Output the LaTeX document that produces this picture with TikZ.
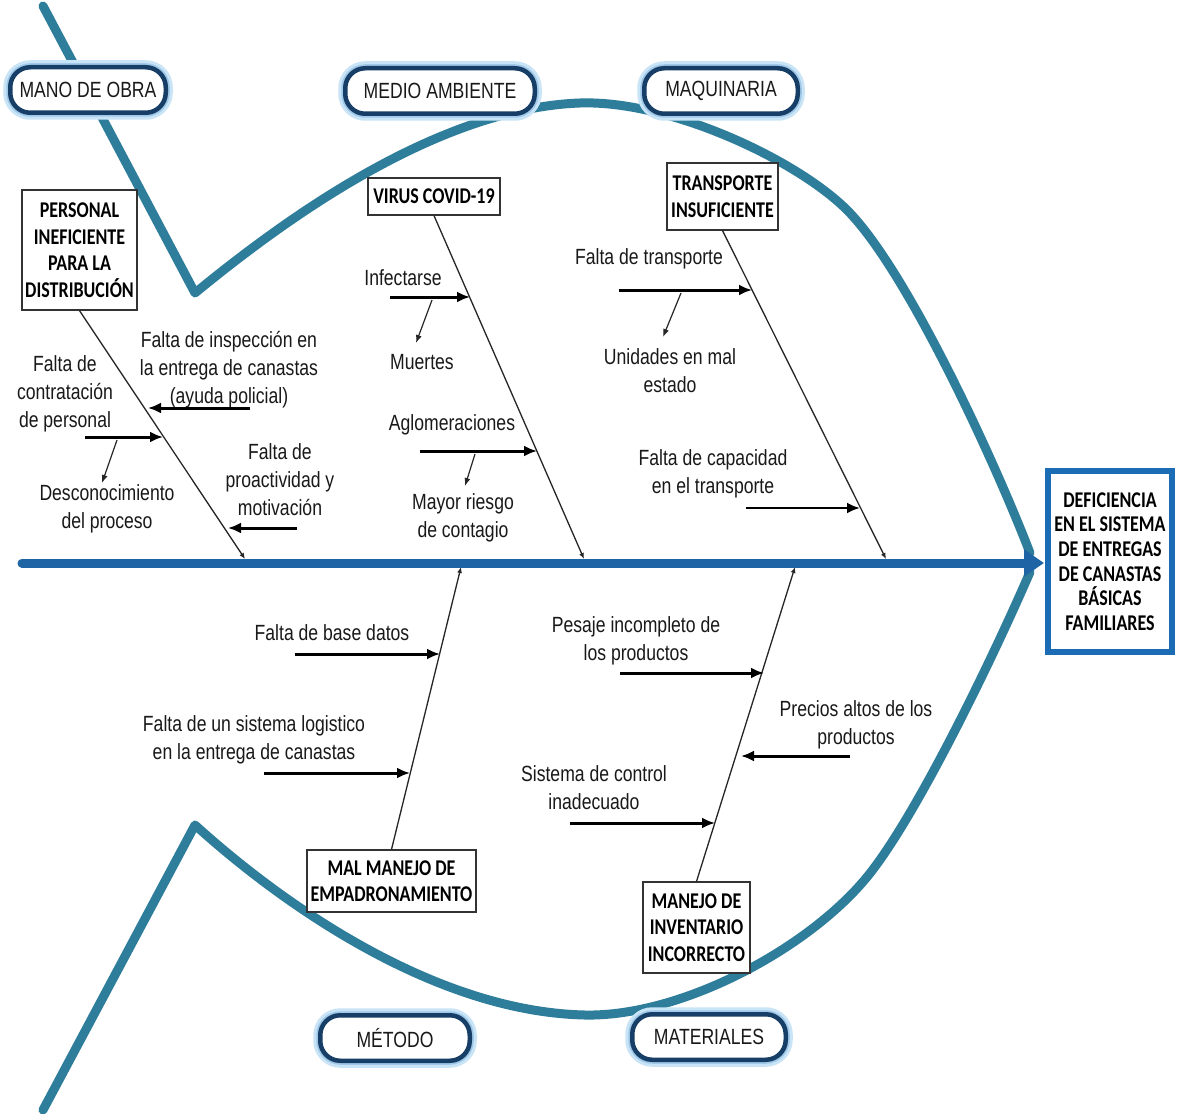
\documentclass[tikz,border=0pt]{standalone}
\usepackage{fontspec}
\usetikzlibrary{arrows.meta}
\newfontfamily\txtfont{Liberation Sans}[FakeStretch=0.8]
\newfontfamily\boxfont{Carlito}[FakeStretch=0.8]
\definecolor{fishc}{RGB}{46,125,155}
\definecolor{spinec}{RGB}{31,100,165}
\definecolor{headc}{RGB}{28,107,181}
\definecolor{pillc}{RGB}{22,62,102}
\definecolor{glowc}{RGB}{200,228,246}
\definecolor{glowd}{RGB}{160,200,232}
\begin{document}
\begin{tikzpicture}[x=1pt,y=-1pt,
  fish/.style={draw=fishc,line width=9pt,line join=round,line cap=round},
  pill/.style={draw=pillc,line width=4.5pt,rounded corners=20pt,fill=white,minimum height=45.5pt,inner xsep=0pt,
    font=\txtfont\fontsize{22}{26}\selectfont,text=black!90,
    preaction={draw=glowc,line width=14pt},preaction={draw=glowd,line width=8pt}},
  cause/.style={draw=black!80,line width=1.2pt,fill=white,align=center,inner sep=2pt,
    font=\boxfont\bfseries\fontsize{22.5}{26.5}\selectfont},
  lbl/.style={align=center,font=\txtfont\fontsize{22}{28}\selectfont,text=black!90,inner sep=0pt},
  bone/.style={draw=black!85,line width=1.3pt,-{Latex[length=6pt,width=5pt]}},
  subar/.style={draw=black,line width=3pt,-{Latex[length=13pt,width=11pt]}},
  thinar/.style={draw=black!85,line width=1.2pt,-{Latex[length=8pt,width=6pt]}},
]
\useasboundingbox[fill=white] (0,0) rectangle (1177,1113);

% fish outline
\draw[fish] (43,6) -- (195,293)
  .. controls (290,215) and (440,108) .. (580,103)
  .. controls (670,100) and (797,160) .. (847,210)
  .. controls (907,270) and (995,462) .. (1030,553);
\draw[fish] (43,1110) -- (195,825)
  .. controls (290,911) and (440,1012) .. (585,1015)
  .. controls (680,1017) and (807,950) .. (867,877)
  .. controls (917,816) and (995,653) .. (1030,572);

% spine
\coordinate (spL) at (22,563);
\coordinate (spR) at (1044,563);
\draw[draw=spinec,line width=9pt,line cap=round,-{Triangle[length=20pt,width=26pt]}] (spL) -- (spR);

% head
\node[draw=headc,line width=6pt,fill=white,minimum width=124pt,minimum height=181pt,align=center,inner sep=0pt,
  font=\boxfont\bfseries\fontsize{22.5}{24.6}\selectfont] (head) at (1110,561.5)
  {DEFICIENCIA\\EN EL SISTEMA\\DE ENTREGAS\\DE CANASTAS\\BÁSICAS\\FAMILIARES};

% category pills
\node[pill,minimum width=155.5pt] (mano) at (88,90) {MANO DE OBRA};
\node[pill,minimum width=189.5pt] (medio) at (440,91) {MEDIO AMBIENTE};
\node[pill,minimum width=153.5pt] (maq) at (721,91) {MAQUINARIA};
\node[pill,minimum width=149.5pt] (metodo) at (395,1038) {MÉTODO};
\node[pill,minimum width=153.5pt] (mat) at (709,1037) {MATERIALES};

% cause boxes
\node[cause,minimum width=115pt,minimum height=120pt] (personal) at (79.5,250) {PERSONAL\\INEFICIENTE\\PARA LA\\DISTRIBUCIÓN};
\node[cause,minimum width=132pt,minimum height=37pt] (virus) at (434,196.5) {VIRUS COVID-19};
\node[cause,minimum width=111pt,minimum height=67pt] (transp) at (722.5,196.5) {TRANSPORTE\\INSUFICIENTE};
\node[cause,minimum width=169pt,minimum height=62pt] (mal) at (391.5,881) {MAL MANEJO DE\\EMPADRONAMIENTO};
\node[cause,minimum width=107pt,minimum height=91pt] (inv) at (696.5,927.5) {MANEJO DE\\INVENTARIO\\INCORRECTO};

% bones
\coordinate (b1) at (245,559);
\coordinate (b2) at (584,559);
\coordinate (b3) at (886,559);
\coordinate (b4) at (461,567);
\coordinate (b5) at (795,567);
\draw[bone] (personal.south) -- (b1);
\draw[bone] (virus.south) -- (b2);
\draw[bone] (transp.south) -- (b3);
\draw[bone] (mal.north) -- (b4);
\draw[bone] (inv.north) -- (b5);

% labels
\node[lbl] (l1) at (229,369.5) {Falta de inspección en\\la entrega de canastas\\(ayuda policial)};
\node[lbl] (l2) at (65,393.5) {Falta de\\contratación\\de personal};
\node[lbl] (l3) at (107,509) {Desconocimiento\\del proceso};
\node[lbl] (l4) at (280,479.5) {Falta de\\proactividad y\\motivación};
\node[lbl] (l5) at (403,278) {Infectarse};
\node[lbl] (l6) at (422,362) {Muertes};
\node[lbl] (l7) at (452,425) {Aglomeraciones};
\node[lbl] (l8) at (463,517.5) {Mayor riesgo\\de contagio};
\node[lbl] (l9) at (649,259) {Falta de transporte};
\node[lbl] (l10) at (670,370.5) {Unidades en mal\\estado};
\node[lbl] (l11) at (713,473.5) {Falta de capacidad\\en el transporte};
\node[lbl] (l12) at (332,633) {Falta de base datos};
\node[lbl] (l13) at (254,740) {Falta de un sistema logistico\\en la entrega de canastas};
\node[lbl] (l14) at (636,641) {Pesaje incompleto de\\los productos};
\node[lbl] (l15) at (856,724.5) {Precios altos de los\\productos};
\node[lbl] (l16) at (594,787.5) {Sistema de control\\inadecuado};

% sub-cause arrows
\coordinate (a1s) at (250,408);  \coordinate (a1e) at (148,408);
\coordinate (a2s) at (85,437);   \coordinate (a2e) at (163,437);
\coordinate (t1s) at (117,440);  \coordinate (t1e) at (102,483);
\coordinate (a3s) at (297,528);  \coordinate (a3e) at (228,528);
\coordinate (a4s) at (390,297);  \coordinate (a4e) at (470,297);
\coordinate (t2s) at (432,300);  \coordinate (t2e) at (416,343);
\coordinate (a5s) at (420,451);  \coordinate (a5e) at (537,451);
\coordinate (t3s) at (475,454);  \coordinate (t3e) at (465,486);
\coordinate (a6s) at (619,290);  \coordinate (a6e) at (752,290);
\coordinate (t4s) at (681,293);  \coordinate (t4e) at (663,337);
\coordinate (a7s) at (746,508);  \coordinate (a7e) at (860,508);
\coordinate (a8s) at (295,654);  \coordinate (a8e) at (440,654);
\coordinate (a9s) at (264,773);  \coordinate (a9e) at (410,773);
\coordinate (a10s) at (620,673); \coordinate (a10e) at (764,673);
\coordinate (a11s) at (850,756); \coordinate (a11e) at (741,756);
\coordinate (a12s) at (570,823); \coordinate (a12e) at (715,823);

\draw[subar] (a1s) -- (a1e);
\draw[subar] (a2s) -- (a2e);
\draw[thinar] (t1s) -- (t1e);
\draw[subar] (a3s) -- (a3e);
\draw[subar] (a4s) -- (a4e);
\draw[thinar] (t2s) -- (t2e);
\draw[subar] (a5s) -- (a5e);
\draw[thinar] (t3s) -- (t3e);
\draw[subar] (a6s) -- (a6e);
\draw[thinar] (t4s) -- (t4e);
\draw[subar,line width=2.4pt] (a7s) -- (a7e);
\draw[subar] (a8s) -- (a8e);
\draw[subar] (a9s) -- (a9e);
\draw[subar] (a10s) -- (a10e);
\draw[subar] (a11s) -- (a11e);
\draw[subar] (a12s) -- (a12e);
\end{tikzpicture}
\end{document}
